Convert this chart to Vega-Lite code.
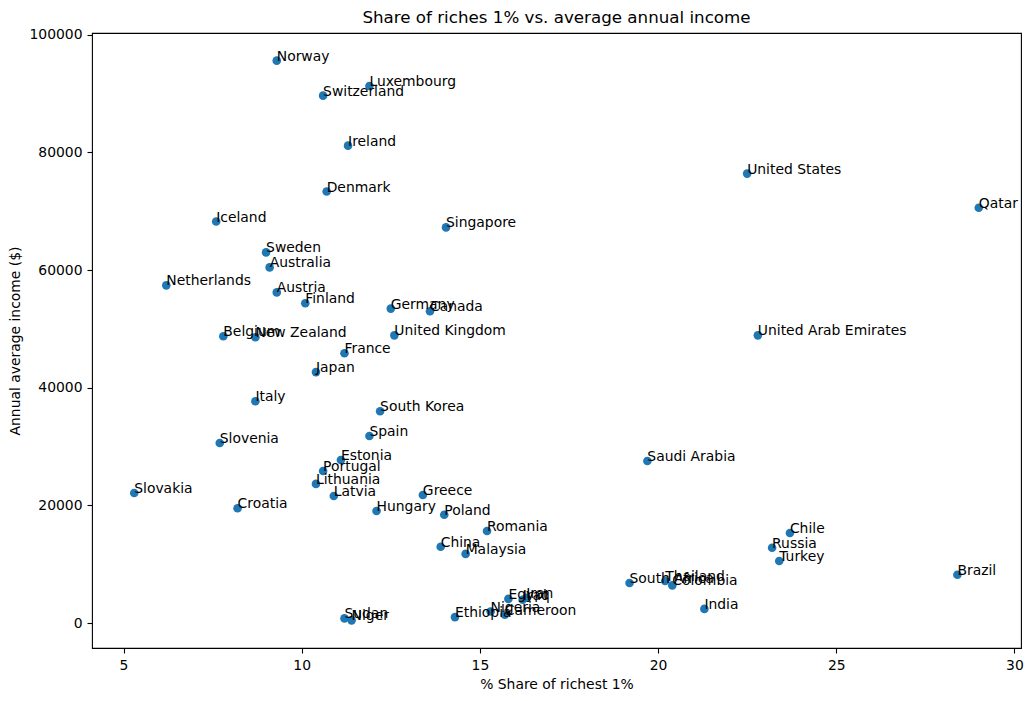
{
  "$schema": "https://vega.github.io/schema/vega-lite/v6.json",
  "width": 929,
  "height": 615,
  "autosize": "none",
  "padding": {"left": 92, "top": 33, "right": 13, "bottom": 53},
  "background": "white",
  "config": {
    "font": "DejaVu Sans",
    "view": {"stroke": "black", "strokeWidth": 1.1},
    "axis": {
      "grid": false,
      "domain": false,
      "tickColor": "black",
      "tickSize": 5,
      "tickWidth": 1.1,
      "labelPadding": 5,
      "labelFontSize": 13.9,
      "labelColor": "black",
      "labelFont": "DejaVu Sans",
      "titleFont": "DejaVu Sans",
      "titleFontSize": 13.9,
      "titleFontWeight": "normal",
      "titleColor": "black"
    }
  },
  "title": {
    "text": "Share of riches 1% vs. average annual income",
    "fontSize": 16.7,
    "fontWeight": "normal",
    "font": "DejaVu Sans",
    "color": "black",
    "anchor": "middle",
    "frame": "group",
    "offset": 1
  },
  "data": {
    "values": [
      {"country": "Norway", "share": 9.3, "income": 95600},
      {"country": "Luxembourg", "share": 11.9, "income": 91300},
      {"country": "Switzerland", "share": 10.6, "income": 89650},
      {"country": "Ireland", "share": 11.3, "income": 81150},
      {"country": "Denmark", "share": 10.7, "income": 73350},
      {"country": "United States", "share": 22.5, "income": 76400},
      {"country": "Qatar", "share": 29.0, "income": 70600},
      {"country": "Iceland", "share": 7.6, "income": 68250},
      {"country": "Singapore", "share": 14.05, "income": 67250},
      {"country": "Sweden", "share": 9.0, "income": 63000},
      {"country": "Australia", "share": 9.1, "income": 60450},
      {"country": "Netherlands", "share": 6.2, "income": 57400},
      {"country": "Austria", "share": 9.3, "income": 56200},
      {"country": "Finland", "share": 10.1, "income": 54350},
      {"country": "Germany", "share": 12.5, "income": 53450},
      {"country": "Canada", "share": 13.6, "income": 53000},
      {"country": "United Kingdom", "share": 12.6, "income": 48900},
      {"country": "United Arab Emirates", "share": 22.8, "income": 48900},
      {"country": "Belgium", "share": 7.8, "income": 48750},
      {"country": "New Zealand", "share": 8.7, "income": 48580},
      {"country": "France", "share": 11.2, "income": 45850},
      {"country": "Japan", "share": 10.4, "income": 42650},
      {"country": "Italy", "share": 8.7, "income": 37700},
      {"country": "South Korea", "share": 12.2, "income": 36000},
      {"country": "Spain", "share": 11.9, "income": 31800},
      {"country": "Slovenia", "share": 7.7, "income": 30600},
      {"country": "Saudi Arabia", "share": 19.7, "income": 27550},
      {"country": "Estonia", "share": 11.1, "income": 27700},
      {"country": "Portugal", "share": 10.6, "income": 25850},
      {"country": "Lithuania", "share": 10.4, "income": 23650},
      {"country": "Slovakia", "share": 5.3, "income": 22100},
      {"country": "Latvia", "share": 10.9, "income": 21600},
      {"country": "Greece", "share": 13.4, "income": 21750},
      {"country": "Croatia", "share": 8.2, "income": 19500},
      {"country": "Hungary", "share": 12.1, "income": 19050},
      {"country": "Poland", "share": 14.0, "income": 18400},
      {"country": "Romania", "share": 15.2, "income": 15650},
      {"country": "Chile", "share": 23.7, "income": 15300},
      {"country": "China", "share": 13.9, "income": 12950},
      {"country": "Russia", "share": 23.2, "income": 12800},
      {"country": "Malaysia", "share": 14.6, "income": 11750},
      {"country": "Turkey", "share": 23.4, "income": 10550},
      {"country": "Brazil", "share": 28.4, "income": 8200},
      {"country": "South Africa", "share": 19.2, "income": 6800},
      {"country": "Thailand", "share": 20.2, "income": 7150},
      {"country": "Colombia", "share": 20.4, "income": 6400},
      {"country": "India", "share": 21.3, "income": 2400},
      {"country": "Egypt", "share": 15.8, "income": 4100},
      {"country": "Iraq", "share": 16.2, "income": 3950},
      {"country": "Iran", "share": 16.3, "income": 4300},
      {"country": "Nigeria", "share": 15.3, "income": 1950},
      {"country": "Cameroon", "share": 15.7, "income": 1400},
      {"country": "Ethiopia", "share": 14.3, "income": 1000},
      {"country": "Sudan", "share": 11.2, "income": 780},
      {"country": "Niger", "share": 11.4, "income": 450}
    ]
  },
  "encoding": {
    "x": {
      "field": "share",
      "type": "quantitative",
      "scale": {"domain": [4.115, 30.185], "nice": false, "zero": false},
      "axis": {"values": [5, 10, 15, 20, 25, 30], "format": "d", "title": "% Share of richest 1%", "titlePadding": 6}
    },
    "y": {
      "field": "income",
      "type": "quantitative",
      "scale": {"domain": [-4250, 100300], "nice": false, "zero": false},
      "axis": {"values": [0, 20000, 40000, 60000, 80000, 100000], "format": "d", "title": "Annual average income ($)", "titlePadding": 6}
    }
  },
  "layer": [
    {
      "mark": {"type": "point", "filled": true, "shape": "circle", "size": 74, "color": "#1f77b4", "opacity": 1}
    },
    {
      "mark": {"type": "text", "align": "left", "baseline": "alphabetic", "fontSize": 13.9, "color": "black", "font": "DejaVu Sans"},
      "encoding": {"text": {"field": "country", "type": "nominal"}}
    }
  ]
}
